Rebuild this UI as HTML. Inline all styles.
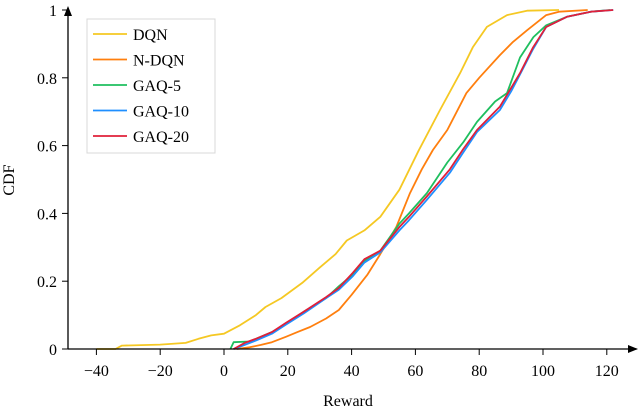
<!DOCTYPE html>
<html><head><meta charset="utf-8"><style>
html,body{margin:0;padding:0;background:#fff;}
svg{display:block;font-family:"Liberation Serif",serif;}
</style></head><body>
<svg id="chart" width="640" height="410" viewBox="0 0 640 410" xmlns="http://www.w3.org/2000/svg">
<g id="series"></g>
<g id="axes"></g>
<g id="legend"></g>
</svg>
<script>
const xTicks = [-40,-20,0,20,40,60,80,100,120];
const yTicks = [0,0.2,0.4,0.6,0.8,1];
const yTickLabels = ["0","0.2","0.4","0.6","0.8","1"];
const seriesNames = ["DQN","N-DQN","GAQ-5","GAQ-10","GAQ-20"];
const seriesColors = ["#f5c823","#ff7f0e","#1fbf5f","#1f8fff","#e0203a"];
const dqnX = [-40,-34,-32,-20,-12,-8,-4,0,5,10,13,18,24.5,30,35,38.5,44,49,55,61,67.7,74,78,82.4,88.7,95,105];
const dqnY = [0,0,0.01,0.013,0.018,0.03,0.04,0.045,0.07,0.1,0.124,0.15,0.195,0.24,0.28,0.32,0.35,0.39,0.47,0.585,0.705,0.814,0.89,0.95,0.985,0.998,1];
const ndqnX = [4,8,11.6,15,19.4,23,27,32,36,40,45,49,54,58.3,62,65.5,70,76,80,86.5,90.6,95,101,105,114];
const ndqnY = [0,0.005,0.012,0.02,0.036,0.05,0.065,0.09,0.115,0.16,0.22,0.28,0.36,0.46,0.53,0.587,0.646,0.755,0.8,0.867,0.906,0.94,0.985,0.995,1];
const gaq5X = [2,3,8,10,15,19.4,25,32,36,40.4,44,49,55,58,63.6,70,75,79.3,85,88.7,92.8,97,101,107.5,115,121];
const gaq5Y = [0,0.02,0.022,0.03,0.05,0.075,0.11,0.15,0.185,0.22,0.26,0.29,0.37,0.4,0.46,0.55,0.61,0.67,0.73,0.755,0.86,0.92,0.955,0.98,0.995,1];
const gaq10X = [3,6.5,10,15,19.4,25,32,36,40.4,44,49,55,58,63.6,70.8,75,79.3,86.5,90,92.8,96.9,101,107.5,115,122];
const gaq10Y = [0,0.012,0.025,0.045,0.072,0.105,0.15,0.175,0.215,0.255,0.285,0.35,0.38,0.44,0.52,0.58,0.64,0.705,0.76,0.81,0.885,0.95,0.98,0.995,1];
const gaq20X = [3,6.5,10,15,19.4,25,32,36,40.4,44,49,55,58,63.6,70.8,75,79.3,86.5,90,92.8,96.9,101,107.5,115,122];
const gaq20Y = [0,0.018,0.03,0.05,0.077,0.11,0.153,0.18,0.225,0.265,0.29,0.36,0.39,0.45,0.53,0.59,0.646,0.715,0.77,0.814,0.89,0.95,0.98,0.995,1];
const seriesX = [dqnX,ndqnX,gaq5X,gaq10X,gaq20X];
const seriesY = [dqnY,ndqnY,gaq5Y,gaq10Y,gaq20Y];

const NS="http://www.w3.org/2000/svg";
const X0=224, XS=3.19, Y0=349, YS=339;
const sx=v=>X0+v*XS, sy=v=>Y0-v*YS;
function mk(tag,attrs,parent){const e=document.createElementNS(NS,tag);for(const k in attrs)e.setAttribute(k,attrs[k]);parent.appendChild(e);return e;}
const axes=document.getElementById('axes'), ser=document.getElementById('series'), leg=document.getElementById('legend');

seriesX.forEach((xs,i)=>{
  let d='';
  xs.forEach((x,j)=>{d+=(j?'L':'M')+sx(x).toFixed(1)+','+sy(seriesY[i][j]).toFixed(1);});
  const p=mk('path',{d:d,fill:'none',stroke:seriesColors[i],'stroke-width':1.8,'stroke-linejoin':'round'},ser);
  
  
});

const xa=mk('line',{x1:68,y1:Y0,x2:630,y2:Y0,stroke:'#000','stroke-width':1.3},axes);


mk('path',{d:'M638,349 L628,345 L628,353 Z',fill:'#000'},axes);
const ya=mk('line',{x1:68,y1:Y0,x2:68,y2:14,stroke:'#000','stroke-width':1.3},axes);


mk('path',{d:'M68,6 L64,16 L72,16 Z',fill:'#000'},axes);

xTicks.forEach(t=>{
  mk('line',{x1:sx(t),y1:Y0,x2:sx(t),y2:Y0+6,stroke:'#000','stroke-width':1},axes);
  const tx=mk('text',{x:sx(t),y:376,'text-anchor':'middle','font-size':16},axes);
  tx.textContent=t<0?'\u2212'+(-t):String(t);
  
  
});
yTicks.forEach((t,i)=>{
  mk('line',{x1:62,y1:sy(t),x2:68,y2:sy(t),stroke:'#000','stroke-width':1},axes);
  const tx=mk('text',{x:57,y:sy(t)+6,'text-anchor':'end','font-size':16},axes);
  tx.textContent=yTickLabels[i];
  
  
});
const xt=mk('text',{x:348,y:406,'text-anchor':'middle','font-size':16},axes);
xt.textContent='Reward';


const yt=mk('text',{x:0,y:0,'text-anchor':'middle','font-size':16,transform:'translate(14,180) rotate(-90)'},axes);
yt.textContent='CDF';



mk('rect',{x:87,y:19,width:128,height:134,fill:'#fff',stroke:'#d8d8d8','stroke-width':1},leg);
seriesNames.forEach((n,i)=>{
  const y=34+i*25.5;
  const g=mk('g',{},leg);
  
  
  mk('line',{x1:93,y1:y,x2:127,y2:y,stroke:seriesColors[i],'stroke-width':1.8},g);
  const t=mk('text',{x:133,y:y+6,'font-size':16},g);
  t.textContent=n;
});
</script>
</body></html>
